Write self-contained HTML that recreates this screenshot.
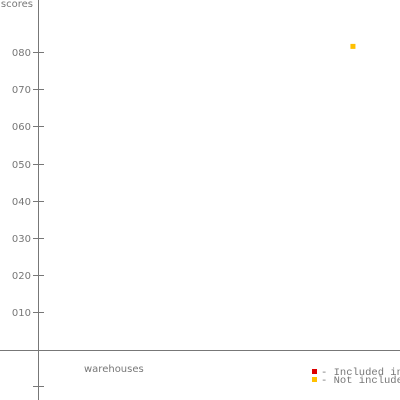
<!DOCTYPE html>
<html><head><meta charset="utf-8"><style>
html,body{margin:0;padding:0;background:#fff;width:400px;height:400px;overflow:hidden}
svg{display:block}
text{font-family:"DejaVu Sans","Liberation Sans",sans-serif;fill:#777;font-size:10px}
</style></head><body>
<svg id="chart" width="400" height="400">
<line x1="38.5" y1="0" x2="38.5" y2="400" stroke="#777" stroke-width="1"/>
<line x1="0" y1="350.5" x2="400" y2="350.5" stroke="#777" stroke-width="1"/>
<text x="33" y="7" text-anchor="end">scores</text>
<text x="84" y="372">warehouses</text>
<g id="ticks"></g>
<g id="points"></g>
<g>
<rect x="312" y="369" width="5" height="5" fill="#dd0000"/>
<text x="321" y="375" style="font-family:'Liberation Mono',monospace;font-size:10.5px">- Included in</text>
<rect x="312" y="377" width="5" height="5" fill="#ffc000"/>
<text x="321" y="383" style="font-family:'Liberation Mono',monospace;font-size:10.5px">- Not included</text>
</g>
</svg>
<script>
const tickValues=[-10,10,20,30,40,50,60,70,80];
const tickLabels=["","010","020","030","040","050","060","070","080"];
const pointX=[87];
const pointY=[81.7];
const pointGroup=["not-included"];
const colors={"included":"#dd0000","not-included":"#ffc000"};
const ns="http://www.w3.org/2000/svg";
function yScale(v){return 349.5-v*3.71;}
function xScale(v){return 38+v*3.62;}
const tg=document.getElementById('ticks');
tickValues.forEach((v,i)=>{
  const y=Math.floor(yScale(v))+0.5;
  const l=document.createElementNS(ns,'line');
  l.setAttribute('x1',33);l.setAttribute('x2',44);l.setAttribute('y1',y);l.setAttribute('y2',y);
  l.setAttribute('stroke','#777');
  
  
  tg.appendChild(l);
  if(tickLabels[i]){
    const t=document.createElementNS(ns,'text');
    t.setAttribute('x',31);t.setAttribute('y',y+3.5);t.setAttribute('text-anchor','end');
    t.textContent=tickLabels[i];
    
    
    tg.appendChild(t);
  }
});
const pg=document.getElementById('points');
pointX.forEach((x,i)=>{
  const r=document.createElementNS(ns,'rect');
  r.setAttribute('x',xScale(x)-2.5);r.setAttribute('y',yScale(pointY[i])-2.5);
  r.setAttribute('width',5);r.setAttribute('height',5);
  r.setAttribute('fill',colors[pointGroup[i]]);
  
  
  pg.appendChild(r);
});
</script>
</body></html>
